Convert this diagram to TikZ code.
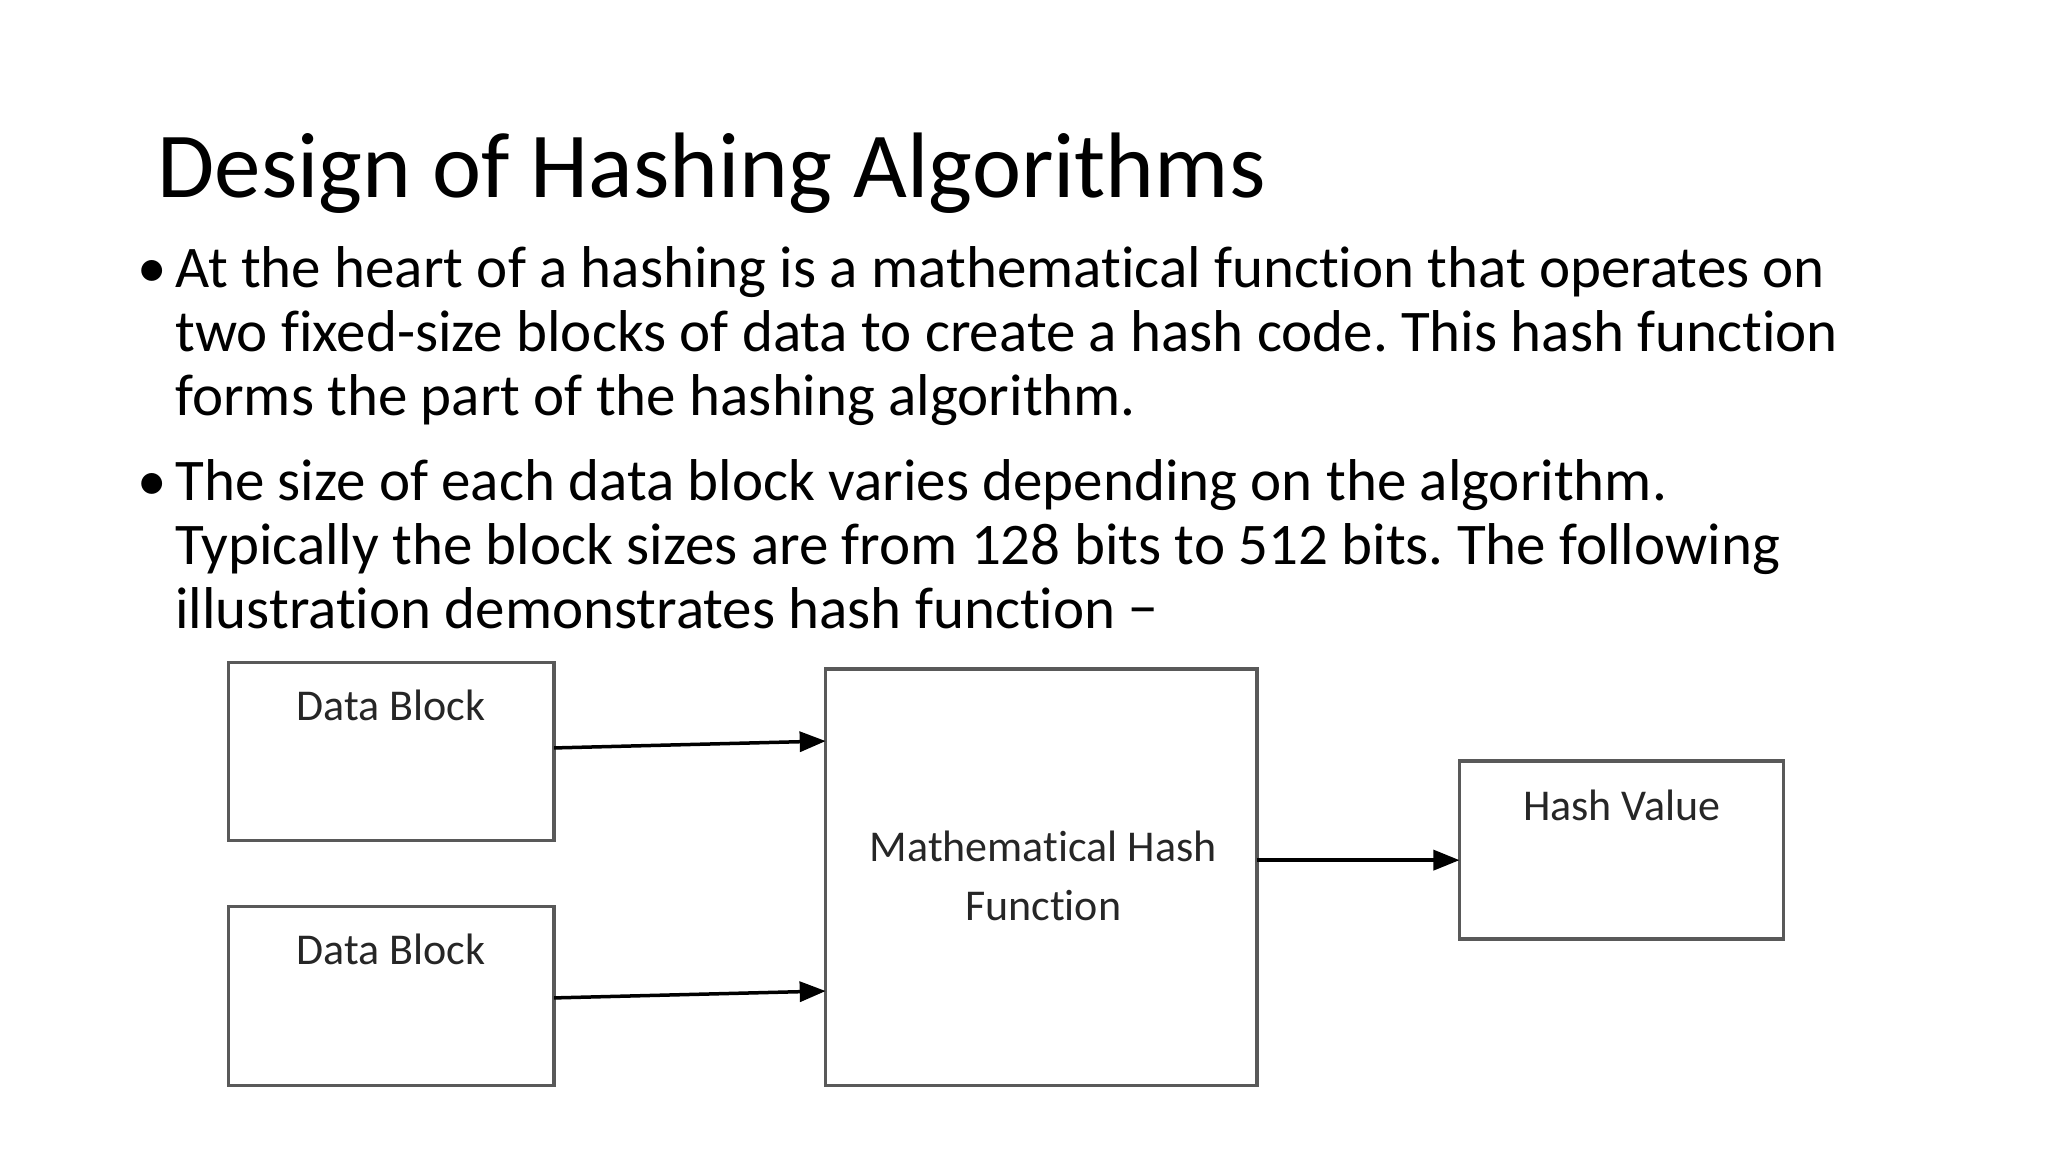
\documentclass[tikz,border=0pt]{standalone}
\usepackage{fontspec}
\setmainfont[Ligatures=NoCommon]{Carlito}
\frenchspacing
\usetikzlibrary{arrows.meta}
\begin{document}
\begin{tikzpicture}[x=0.984pt,y=-0.984pt,
  blk/.style={draw=black!65,line width=3.5pt},
  lbl/.style={font=\fontsize{44}{52}\selectfont,text=black!85},
  conn/.style={line width=3.5pt,-{Triangle[length=26pt,width=20pt]}},
  body/.style={font=\fontsize{59}{65}\selectfont,anchor=base west,inner sep=0pt}]
\useasboundingbox (0,0) rectangle (2081,1171);
\node[font=\fontsize{93}{100}\selectfont,anchor=base west,inner sep=0pt] (title) at (160,201) {Design of Hashing Algorithms};
\node[body] (b1) at (140,292) {•};
\node[body] (l1) at (178,292) {At the heart of a hashing is a mathematical function that operates on};
\node[body] (l2) at (178,357) {two fixed-size blocks of data to create a hash code. This hash function};
\node[body] (l3) at (178,422) {forms the part of the hashing algorithm.};
\node[body] (b2) at (140,509) {•};
\node[body] (l4) at (178,509) {The size of each data block varies depending on the algorithm.};
\node[body] (l5) at (178,574) {Typically the block sizes are from 128 bits to 512 bits. The following};
\node[body] (l6) at (178,639) {illustration demonstrates hash function −};
\draw[blk] (232,673) rectangle (563,854);
\draw[blk] (232,921) rectangle (563,1103);
\draw[blk] (839,680) rectangle (1277,1103);
\draw[blk] (1483,773) rectangle (1812,954);
\node[lbl] (d1) at (397,717) {Data Block};
\node[lbl] (d2) at (397,965) {Data Block};
\node[lbl,align=center,font=\fontsize{44}{59}\selectfont] (m) at (1060,890) {Mathematical Hash\\Function};
\node[lbl] (h) at (1648,818) {Hash Value};
\coordinate (a1) at (563,760); \coordinate (a1e) at (839,753);
\coordinate (a2) at (563,1014); \coordinate (a2e) at (839,1007);
\coordinate (a3) at (1277,874); \coordinate (a3e) at (1483,874);
\draw[conn] (a1) -- (a1e);
\draw[conn] (a2) -- (a2e);
\draw[conn] (a3) -- (a3e);
\end{tikzpicture}
\end{document}
